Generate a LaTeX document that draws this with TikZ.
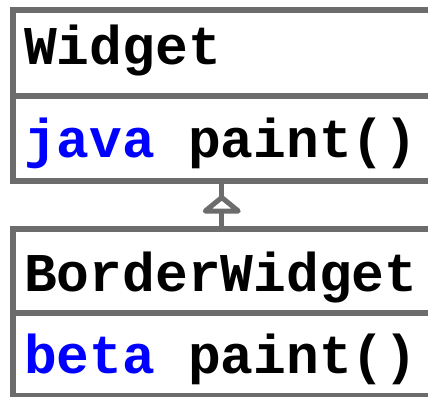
\documentclass[tikz,border=0pt]{standalone}
\usepackage{fontspec}
\setmonofont{Liberation Mono}
\definecolor{boxgray}{RGB}{108,108,108}
\begin{document}
\begin{tikzpicture}[x=1pt,y=-1pt,
  classbox/.style={draw=boxgray, line width=6pt, inner sep=0pt, outer sep=0pt, rectangle},
  divider/.style={draw=boxgray, line width=6pt},
  label/.style={anchor=base west, inner sep=0pt, font=\fontsize{54.6}{60}\selectfont\ttfamily\bfseries},
  link/.style={draw=boxgray, line width=5pt},
  headstyle/.style={draw=boxgray, line width=5pt, fill=white, line join=round}]
\useasboundingbox (0,0) rectangle (428,396);
\clip (0,0) rectangle (428,396);
\node[classbox, minimum width=417.5pt, minimum height=171pt] (widget) at (221.75,95.5) {};
\node[classbox, minimum width=417.5pt, minimum height=167pt] (border) at (221.75,312.5) {};
\draw[divider] (widget.west |- 0,96) -- (widget.east |- 0,96);
\draw[divider] (border.west |- 0,313) -- (border.east |- 0,313);
\node[label] (wname) at (24,65) {Widget};
\node[label] (wop) at (24,157) {\textcolor{blue}{java} paint()};
\node[label] (bname) at (24,291) {BorderWidget};
\node[label] (bop) at (24,373) {\textcolor{blue}{beta} paint()};
\coordinate (apex) at ([yshift=-16.5pt]widget.south);
\draw[link] (border.north) -- (widget.south);
\draw[headstyle] (apex) -- ++(-16.5,13.5) -- ++(33,0) -- cycle;
\end{tikzpicture}
\end{document}
